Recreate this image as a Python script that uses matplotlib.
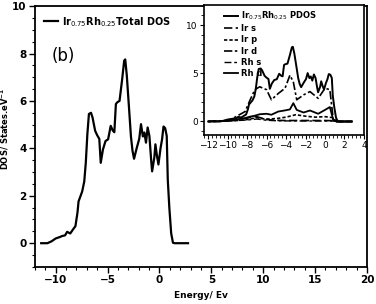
import matplotlib

matplotlib.use("Agg")

import matplotlib.pyplot as plt
from matplotlib.ticker import MultipleLocator

# total DOS
energy = [-11.4, -10.8, -10.4, -10.0, -9.6, -9.4, -9.1, -8.9, -8.6, -8.3,
          -8.1, -7.9, -7.8, -7.45, -7.25, -7.1, -6.95, -6.8, -6.6, -6.45,
          -6.2, -6.0, -5.8, -5.66, -5.45, -5.2, -4.95, -4.7, -4.5, -4.35,
          -4.2, -4.05, -3.85, -3.6, -3.4, -3.3, -3.15, -2.95, -2.75, -2.6,
          -2.45, -2.2, -1.95, -1.78, -1.6, -1.46, -1.3, -1.14, -0.97, -0.8,
          -0.71, -0.5, -0.39, -0.25, -0.1, 0.1, 0.25, 0.39, 0.55, 0.7,
          0.8, 0.95, 1.13, 1.3, 1.45, 2.0, 2.75]
total_dos = [0, 0, 0.08, 0.2, 0.26, 0.3, 0.33, 0.48, 0.41, 0.6,
             0.72, 1.3, 1.76, 2.18, 2.6, 3.4, 4.6, 5.45, 5.5, 5.3,
             4.74, 4.55, 4.4, 3.39, 3.95, 4.31, 4.38, 4.95, 4.75, 4.68,
             5.87, 5.95, 6.0, 6.9, 7.7, 7.75, 7.08, 5.8, 4.5, 3.9,
             3.56, 4.0, 4.4, 5.02, 4.5, 4.67, 4.24, 4.88, 4.52, 3.5,
             3.03, 3.6, 4.17, 3.7, 3.32, 4.0, 4.38, 4.92, 4.85, 4.52,
             2.68, 1.5, 0.41, 0.02, 0, 0, 0]

# partial DOS (inset)
d_energy = [-12.0, -10.0, -9.4, -8.2, -7.7, -7.2, -6.7, -6.0, -5.5, -4.8,
            -4.1, -3.6, -3.25, -2.9, -2.2, -1.54, -0.7, 0.0, 0.5, 0.85,
            1.2, 2.75]
ir_d = [0, 0.1, 0.35, 1.03, 2.2, 3.3, 3.6, 3.3, 2.25, 2.9,
        3.45, 4.8, 4.1, 2.25, 2.76, 3.1, 2.4, 3.45, 3.3, 0.2,
        0, 0]
rh_d = [0, 0.05, 0.15, 0.35, 0.5, 0.6, 0.75, 0.8, 0.7, 1.03,
        1.15, 1.25, 1.9, 1.2, 0.93, 1.14, 0.8, 1.2, 1.5, 0.15,
        0, 0]

s_energy = [-12.0, -10.0, -9.0, -8.0, -7.5, -7.0, -6.5, -6.0, -5.0, -4.0,
            -3.0, -2.0, -1.0, 0.0, 0.8, 1.2, 2.75]
ir_s = [0, 0.08, 0.2, 0.35, 0.45, 0.5, 0.35, 0.2, 0.12, 0.1,
        0.1, 0.1, 0.1, 0.1, 0.08, 0, 0]
ir_p = [0, 0.05, 0.1, 0.2, 0.3, 0.4, 0.3, 0.25, 0.3, 0.45,
        0.7, 0.55, 0.45, 0.5, 0.4, 0, 0]
rh_s = [0, 0.05, 0.1, 0.15, 0.2, 0.25, 0.2, 0.12, 0.08, 0.06,
        0.06, 0.05, 0.05, 0.05, 0.05, 0, 0]

fig = plt.figure(figsize=(3.76, 3.04), dpi=100, facecolor="white")

ax = fig.add_axes([0.093, 0.122, 0.883, 0.858])
ax.plot(energy, total_dos, color="black", lw=1.6,
        label=r"Ir$_{0.75}$Rh$_{0.25}$Total DOS")
ax.set_xlim(-12, 20)
ax.set_ylim(-1, 10)
ax.xaxis.set_major_locator(MultipleLocator(5))
ax.xaxis.set_minor_locator(MultipleLocator(1))
ax.yaxis.set_major_locator(MultipleLocator(2))
ax.yaxis.set_minor_locator(MultipleLocator(0.5))
ax.tick_params(which="major", length=4, width=1, labelsize=7.5, direction="out", pad=2)
ax.tick_params(which="minor", length=2.5, width=0.8, direction="out")
for lab in ax.get_xticklabels() + ax.get_yticklabels():
    lab.set_fontweight("bold")
for sp in ax.spines.values():
    sp.set_linewidth(1.3)
ax.set_xlabel("Energy/ Ev", fontsize=6.5, fontweight="bold", labelpad=4)
ax.set_ylabel(r"DOS/ States.eV$^{\mathbf{-1}}$", fontsize=6, fontweight="bold")
ax.yaxis.set_label_coords(-0.072, 0.53)
ax.legend(loc="upper left", bbox_to_anchor=(0.0, 1.0), frameon=False,
          prop={"size": 7, "weight": "bold"}, handlelength=1.5, handletextpad=0.4)
ax.text(0.05, 0.79, "(b)", transform=ax.transAxes, fontsize=12)

ins = fig.add_axes([0.543, 0.556, 0.425, 0.428])
ins.plot(energy, total_dos, color="black", lw=1.4, label=r"Ir$_{0.75}$Rh$_{0.25}$ PDOS")
ins.plot(s_energy, ir_s, color="black", lw=1.2, dashes=(5, 2), label="Ir s")
ins.plot(s_energy, ir_p, color="black", lw=1.2, dashes=(2, 1.2), label="Ir p")
ins.plot(d_energy, ir_d, color="black", lw=1.2, dashes=(5, 1.5, 1.5, 1.5), label="Ir d")
ins.plot(s_energy, rh_s, color="black", lw=1.0, dashes=(5, 2, 2, 2), label="Rh s")
ins.plot(d_energy, rh_d, color="black", lw=1.3, label="Rh d")
ins.set_xlim(-12.4, 4)
ins.set_ylim(-1.4, 12.1)
ins.xaxis.set_major_locator(MultipleLocator(2))
ins.xaxis.set_minor_locator(MultipleLocator(0.4))
ins.yaxis.set_major_locator(MultipleLocator(5))
ins.yaxis.set_minor_locator(MultipleLocator(1))
ins.tick_params(which="major", length=3, width=0.8, labelsize=6.5, pad=1.5)
ins.tick_params(which="minor", length=2, width=0.6)
for sp in ins.spines.values():
    sp.set_linewidth(1.2)
ins.legend(loc="upper left", bbox_to_anchor=(0.08, 1.02), frameon=False,
           prop={"size": 6, "weight": "bold"}, handlelength=1.6, handletextpad=0.4,
           labelspacing=0.25)

fig.savefig("out.png", dpi=100, facecolor="white")
